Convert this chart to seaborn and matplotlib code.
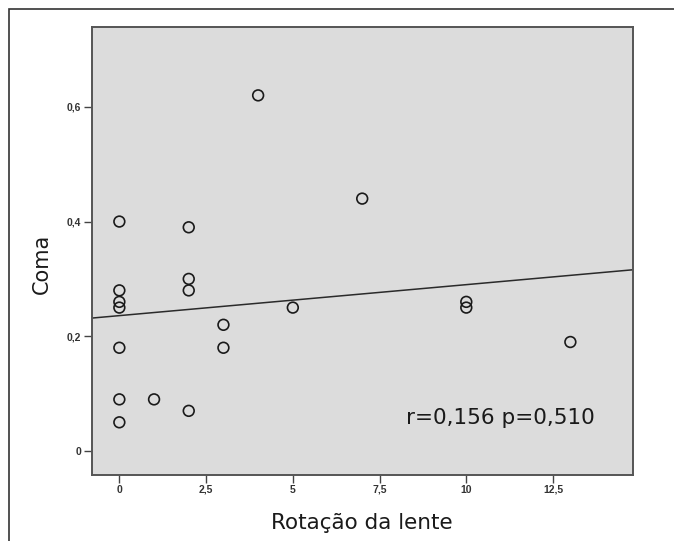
import matplotlib
matplotlib.use("Agg")
import matplotlib.pyplot as plt
import seaborn as sns
import pandas as pd
from matplotlib.patches import Rectangle

# ---- data ----
rotacao = [0, 0, 0, 0, 0, 0, 0, 1, 2, 2, 2, 2, 3, 3, 4, 5, 7, 10, 10, 13]
coma = [0.40, 0.28, 0.26, 0.25, 0.18, 0.09, 0.05, 0.09, 0.39, 0.30, 0.28, 0.07,
        0.22, 0.18, 0.62, 0.25, 0.44, 0.26, 0.25, 0.19]
fit_intercept = 0.236
fit_slope = 0.0054
x_ticks = [0, 2.5, 5, 7.5, 10, 12.5]
x_ticklabels = ["0", "2,5", "5", "7,5", "10", "12,5"]
y_ticks = [0, 0.2, 0.4, 0.6]
y_ticklabels = ["0", "0,2", "0,4", "0,6"]
annotation = "r=0,156 p=0,510"
x_label = "Rotação da lente"
y_label = "Coma"

df = pd.DataFrame({"Rotação da lente": rotacao, "Coma": coma})

sns.set_theme(style="white")
plt.rcParams["font.family"] = ["Liberation Sans", "DejaVu Sans"]

fig = plt.figure(figsize=(6.74, 5.41), dpi=100)
fig.patch.set_facecolor("white")
ax = fig.add_axes([0.1359, 0.1229, 0.803, 0.827])
ax.set_facecolor("#dcdcdc")

ax.set_xlim(-0.8, 14.8)
ax.set_ylim(-0.041, 0.739)

sns.scatterplot(data=df, x="Rotação da lente", y="Coma", ax=ax,
                marker="o", s=60, facecolor="none", edgecolor="#1a1a1a",
                linewidth=1.2, zorder=3)

ax.axline((0, fit_intercept), slope=fit_slope, color="#2a2a2a", linewidth=1.1, zorder=2)

ax.set_xticks(x_ticks)
ax.set_xticklabels(x_ticklabels, fontsize=7.5, fontweight="bold", color="#333333")
ax.set_yticks(y_ticks)
ax.set_yticklabels(y_ticklabels, fontsize=7.5, fontweight="bold", color="#333333")
ax.tick_params(axis="both", direction="out", length=5.5, width=1, color="#444444",
               left=True, bottom=True, pad=2)

for s in ax.spines.values():
    s.set_color("#555555")
    s.set_linewidth(1.4)

ax.set_xlabel(x_label, fontsize=15.5, color="#1a1a1a", family="DejaVu Sans",
              va="center", ha="center")
ax.xaxis.set_label_coords(0.5, -0.108)
ax.set_ylabel(y_label, fontsize=15, color="#1a1a1a", family="DejaVu Sans",
              va="center", ha="center")
ax.yaxis.set_label_coords(-0.0916, 0.47)

ax.text(8.25, 0.0575, annotation, fontsize=15.5, color="#1a1a1a", family="DejaVu Sans",
        ha="left", va="center", zorder=4)

# outer frame
fig.patches.append(Rectangle((0.0128, -0.1), 1.2, 0.1 + 0.983, transform=fig.transFigure,
                             fill=False, edgecolor="#333333", linewidth=1.2))

fig.savefig("out.png", dpi=100, facecolor="white")
